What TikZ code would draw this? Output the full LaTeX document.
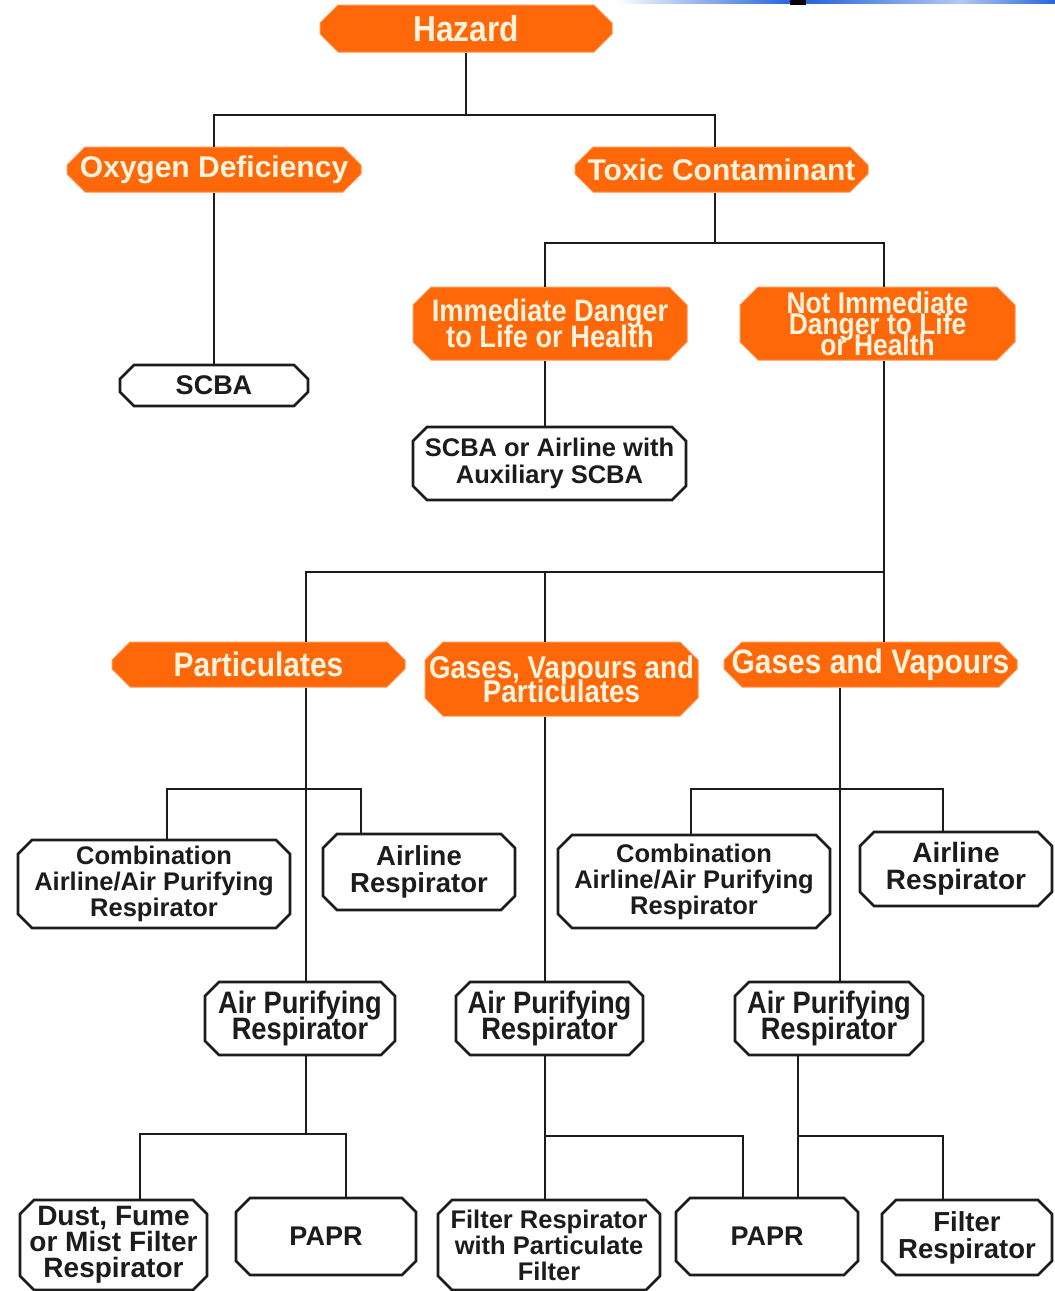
\documentclass[tikz,border=0pt]{standalone}
\usepackage{fontspec}
\setmainfont{Liberation Sans}
\newfontfamily\nar{Liberation Sans}[FakeStretch=0.88]
\usetikzlibrary{shapes.misc}
\definecolor{orng}{RGB}{255,104,8}
\definecolor{cream}{RGB}{255,243,222}
\definecolor{ink}{RGB}{28,28,28}
\definecolor{blueln}{RGB}{40,100,220}
\newcommand{\fs}[2]{\fontsize{#1}{#2}\selectfont\lineskiplimit=-100pt\relax}
\tikzset{
  ob/.style 2 args={chamfered rectangle, chamfered rectangle sep=9pt, fill=orng, draw=orng!70!white, line width=1pt, inner sep=0pt, text width=#1, text height=#2, text depth=0pt},
  wb/.style 2 args={chamfered rectangle, chamfered rectangle sep=7pt, fill=white, draw=ink, line width=2.6pt, inner sep=0pt, text width=#1, text height=#2, text depth=0pt},
  ot/.style={text=cream, align=center, inner sep=0pt},
  wt/.style={text=ink, align=center, inner sep=0pt},
  conn/.style={draw=ink, line width=2.6pt},
}
\begin{document}
\begin{tikzpicture}[x=1pt,y=-1pt]
\useasboundingbox (0,0) rectangle (1055,1291);
% top-right decoration
\shade[left color=white, right color=blueln] (615,0) rectangle (790,3.5);
\shade[left color=blueln, right color=blueln!35] (806,0) rectangle (960,3.5);
\shade[left color=blueln!35, right color=blueln] (960,0) rectangle (1055,3.5);
\fill[black] (790,0) rectangle (806,5);

% orange nodes (text width/height = outer size minus 2 x chamfer)
\node[ob={274pt}{29pt}, label={[ot, font={\nar\bfseries\fs{36}{36}}]center:{Hazard}}] (haz) at (466,28.5) {};
\node[ob={276pt}{27pt}, label={[ot, font={\bfseries\fs{30}{30}}]center:{Oxygen Deficiency}}] (oxy) at (214,169.5) {};
\node[ob={275pt}{27pt}, label={[ot, font={\bfseries\fs{30}{30}}]center:{Toxic Contaminant}}] (tox) at (721.5,169.5) {};
\node[ob={256pt}{55pt}, label={[ot, font={\nar\bfseries\fs{31}{26}}]center:{Immediate Danger\\to Life or Health}}] (idlh) at (550,323.5) {};
\node[ob={257pt}{55pt}, label={[ot, font={\nar\bfseries\fs{30}{21}}]center:{Not Immediate\\Danger to Life\\or Health}}] (nidlh) at (877.5,323.5) {};
\node[ob={275pt}{27pt}, label={[ot, font={\nar\bfseries\fs{34}{34}}]center:{Particulates}}] (part) at (258.5,664.5) {};
\node[ob={255pt}{56pt}, label={[ot, font={\nar\bfseries\fs{31.5}{24}}]center:{Gases, Vapours and\\Particulates}}] (gvp) at (561.5,679) {};
\node[ob={275pt}{27pt}, label={[ot, font={\nar\bfseries\fs{34}{34}}]center:{Gases and Vapours}}] (gv) at (870.5,664.5) {};

% white nodes
\node[wb={174pt}{27pt}, label={[wt, font={\bfseries\fs{27}{27}}]center:{SCBA}}] (scba) at (214,385.5) {};
\node[wb={259pt}{59pt}, label={[wt, font={\bfseries\fs{25.5}{27}}]center:{SCBA or Airline with\\Auxiliary SCBA}}] (sab) at (549.5,463.5) {};
\node[wb={258pt}{74pt}, label={[wt, font={\bfseries\fs{25.5}{26}}]center:{Combination\\Airline/Air Purifying\\Respirator}}] (comb1) at (154,884) {};
\node[wb={178pt}{62pt}, label={[wt, font={\bfseries\fs{27.5}{27}}]center:{Airline\\Respirator}}] (air1) at (419,872) {};
\node[wb={176pt}{59pt}, label={[wt, font={\nar\bfseries\fs{31}{26}}]center:{Air Purifying\\Respirator}}] (apr1) at (300,1018.5) {};
\node[wb={173pt}{76pt}, label={[wt, font={\bfseries\fs{28}{26}}]center:{Dust, Fume\\or Mist Filter\\Respirator}}] (dust) at (113.5,1245) {};
\node[wb={166pt}{63pt}, label={[wt, font={\bfseries\fs{27}{27}}]center:{PAPR}}] (papr1) at (326,1236.5) {};
\node[wb={173pt}{59pt}, label={[wt, font={\nar\bfseries\fs{31}{26}}]center:{Air Purifying\\Respirator}}] (apr2) at (549.5,1018.5) {};
\node[wb={208pt}{76pt}, label={[wt, font={\bfseries\fs{25.5}{26}}]center:{Filter Respirator\\with Particulate\\Filter}}] (frp) at (549,1245) {};
\node[wb={168pt}{63pt}, label={[wt, font={\bfseries\fs{27}{27}}]center:{PAPR}}] (papr2) at (767,1236.5) {};
\node[wb={258pt}{79pt}, label={[wt, font={\bfseries\fs{25.5}{26}}]center:{Combination\\Airline/Air Purifying\\Respirator}}] (comb2) at (694,881.5) {};
\node[wb={178pt}{60pt}, label={[wt, font={\bfseries\fs{28}{27}}]center:{Airline\\Respirator}}] (air2) at (956,869) {};
\node[wb={174pt}{59pt}, label={[wt, font={\nar\bfseries\fs{31}{26}}]center:{Air Purifying\\Respirator}}] (apr3) at (829,1018.5) {};
\node[wb={156pt}{61pt}, label={[wt, font={\bfseries\fs{27.5}{27}}]center:{Filter\\Respirator}}] (filt) at (967,1237.5) {};

% junctions
\coordinate (j1) at (466,115);
\coordinate (j2) at (715,243);
\coordinate (j3) at (884,572);
\coordinate (j4) at (306,789);
\coordinate (j5) at (306,1134);
\coordinate (j6) at (545,1136);
\coordinate (j7) at (840,789);
\coordinate (j8) at (798,1136);

% connectors
\draw[conn] (haz.south) -- (j1);
\draw[conn] (j1) -| (oxy.north);
\draw[conn] (j1) -| ([xshift=-6.5pt]tox.north);
\draw[conn] (oxy.south) -- (scba.north);
\draw[conn] ([xshift=-6.5pt]tox.south) -- (j2);
\draw[conn] (j2) -| ([xshift=-5pt]idlh.north);
\draw[conn] (j2) -| ([xshift=6.5pt]nidlh.north);
\draw[conn] ([xshift=-5pt]idlh.south) -- ([xshift=-4.5pt]sab.north);
\draw[conn] ([xshift=6.5pt]nidlh.south) -- (j3);
\draw[conn] (j3) -| ([xshift=47.5pt]part.north);
\draw[conn] (j3) -| ([xshift=-16.5pt]gvp.north);
\draw[conn] (j3) -- ([xshift=13.5pt]gv.north);
\draw[conn] ([xshift=47.5pt]part.south) -- ([xshift=6pt]apr1.north);
\draw[conn] (j4) -| ([xshift=13pt]comb1.north);
\draw[conn] (j4) -| ([xshift=-58pt]air1.north);
\draw[conn] ([xshift=6pt]apr1.south) -- (j5);
\draw[conn] (j5) -| ([xshift=26.5pt]dust.north);
\draw[conn] (j5) -| ([xshift=20pt]papr1.north);
\draw[conn] ([xshift=-16.5pt]gvp.south) -- ([xshift=-4.5pt]apr2.north);
\draw[conn] ([xshift=-4.5pt]apr2.south) -- ([xshift=-4pt]frp.north);
\draw[conn] (j6) -| ([xshift=-24pt]papr2.north);
\draw[conn] ([xshift=-30.5pt]gv.south) -- ([xshift=11pt]apr3.north);
\draw[conn] (j7) -| ([xshift=-3pt]comb2.north);
\draw[conn] (j7) -| ([xshift=-13pt]air2.north);
\draw[conn] ([xshift=-31pt]apr3.south) -- ([xshift=31pt]papr2.north);
\draw[conn] (j8) -| ([xshift=-24pt]filt.north);
\end{tikzpicture}
\end{document}
